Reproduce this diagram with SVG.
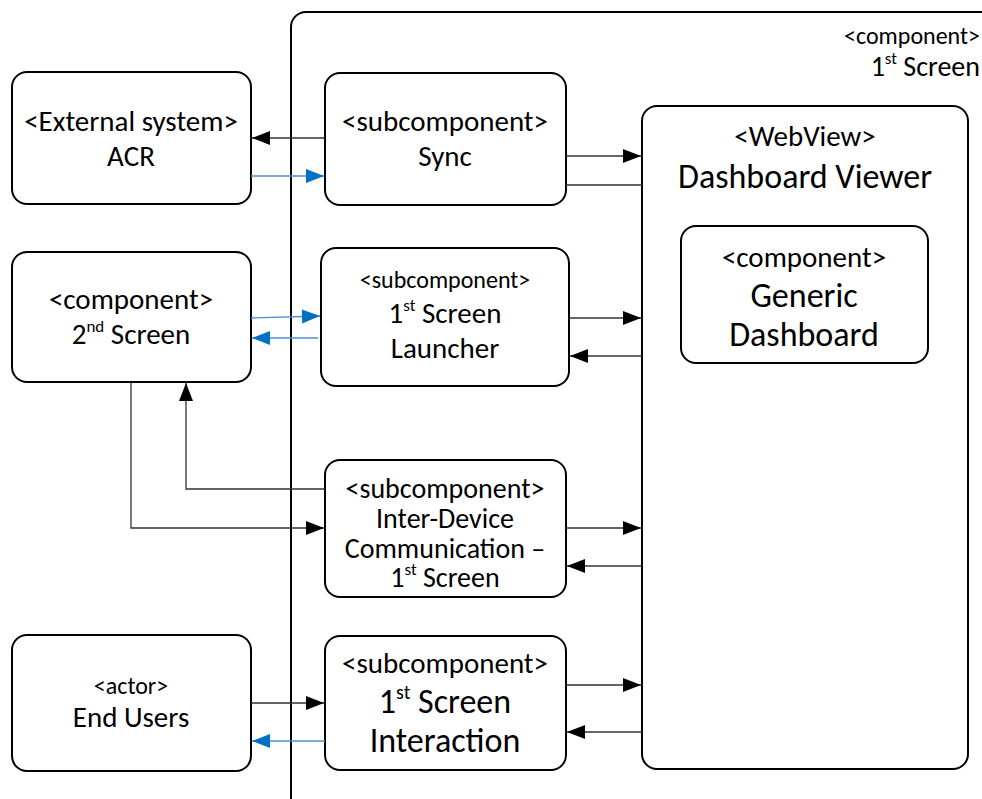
<svg xmlns="http://www.w3.org/2000/svg" width="982" height="799" viewBox="0 0 982 799">
  <style>
    .box { fill: #fff; stroke: #000; stroke-width: 2; }
    .t { font-family: Calibri, Carlito, "Liberation Sans", sans-serif; fill: #000; text-anchor: middle; }
    .r { text-anchor: end; }
    .ln { fill: none; stroke: #333; stroke-width: 1.3; }
    .bl { fill: none; stroke: #4a90d0; stroke-width: 1.3; }
  </style>
  <defs>
    <marker id="ah" markerUnits="userSpaceOnUse" markerWidth="20" markerHeight="14" refX="18" refY="7" orient="auto">
      <path d="M0,0 L18,7 L0,14 Z" fill="#000"/>
    </marker>
    <marker id="ahb" markerUnits="userSpaceOnUse" markerWidth="20" markerHeight="14" refX="18" refY="7" orient="auto">
      <path d="M0,0 L18,7 L0,14 Z" fill="#0070c0"/>
    </marker>
  </defs>

  <!-- enclosing 1st Screen component -->
  <g id="first-screen">
    <rect class="box" x="291" y="12" width="720" height="820" rx="15"/>
    <text class="t r" x="980" y="44" font-size="24">&lt;component&gt;</text>
    <text class="t r" x="980" y="76" font-size="28">1<tspan font-size="17" dy="-12">st</tspan><tspan dy="12"> Screen</tspan></text>
  </g>

  <g id="acr">
    <rect class="box" x="12" y="72" width="239" height="132" rx="15"/>
    <text class="t" x="131" y="131" font-size="29">&lt;External system&gt;</text>
    <text class="t" x="131" y="166" font-size="29">ACR</text>
  </g>

  <g id="second-screen">
    <rect class="box" x="12" y="252" width="239" height="130" rx="15"/>
    <text class="t" x="131" y="309" font-size="29">&lt;component&gt;</text>
    <text class="t" x="131" y="344" font-size="29">2<tspan font-size="17" dy="-12">nd</tspan><tspan dy="12"> Screen</tspan></text>
  </g>

  <g id="end-users">
    <rect class="box" x="12" y="635" width="239" height="136" rx="15"/>
    <text class="t" x="131" y="694" font-size="24">&lt;actor&gt;</text>
    <text class="t" x="131" y="727" font-size="29">End Users</text>
  </g>

  <g id="sync">
    <rect class="box" x="325" y="73" width="241" height="132" rx="15"/>
    <text class="t" x="445" y="131" font-size="29">&lt;subcomponent&gt;</text>
    <text class="t" x="445" y="166" font-size="29">Sync</text>
  </g>

  <g id="launcher">
    <rect class="box" x="321" y="248" width="248" height="138" rx="15"/>
    <text class="t" x="445" y="288" font-size="24">&lt;subcomponent&gt;</text>
    <text class="t" x="445" y="323" font-size="29">1<tspan font-size="17" dy="-12">st</tspan><tspan dy="12"> Screen</tspan></text>
    <text class="t" x="445" y="358" font-size="29">Launcher</text>
  </g>

  <g id="inter-device">
    <rect class="box" x="325" y="460" width="241" height="137" rx="15"/>
    <text class="t" x="445" y="498" font-size="28">&lt;subcomponent&gt;</text>
    <text class="t" x="445" y="528" font-size="28">Inter-Device</text>
    <text class="t" x="445" y="558" font-size="28">Communication –</text>
    <text class="t" x="445" y="587" font-size="28">1<tspan font-size="17" dy="-12">st</tspan><tspan dy="12"> Screen</tspan></text>
  </g>

  <g id="interaction">
    <rect class="box" x="325" y="636" width="241" height="134" rx="15"/>
    <text class="t" x="445" y="673" font-size="29">&lt;subcomponent&gt;</text>
    <text class="t" x="445" y="713" font-size="34">1<tspan font-size="20" dy="-14">st</tspan><tspan dy="14"> Screen</tspan></text>
    <text class="t" x="445" y="752" font-size="34">Interaction</text>
  </g>

  <g id="dashboard-viewer">
    <rect class="box" x="642" y="106" width="326" height="663" rx="15"/>
    <text class="t" x="805" y="146" font-size="29">&lt;WebView&gt;</text>
    <text class="t" x="805" y="188" font-size="34">Dashboard Viewer</text>
  </g>

  <g id="generic-dashboard">
    <rect class="box" x="681" y="226" width="247" height="137" rx="15"/>
    <text class="t" x="804" y="267" font-size="29">&lt;component&gt;</text>
    <text class="t" x="804" y="307" font-size="34">Generic</text>
    <text class="t" x="804" y="346" font-size="34">Dashboard</text>
  </g>

  <g id="connectors">
    <!-- Sync / ACR -->
    <line class="ln" x1="325" y1="138" x2="252" y2="138" marker-end="url(#ah)"/>
    <line class="bl" x1="251" y1="176" x2="324" y2="176" marker-end="url(#ahb)"/>
    <!-- Sync / Dashboard Viewer -->
    <line class="ln" x1="566" y1="156" x2="641" y2="156" marker-end="url(#ah)"/>
    <line class="ln" x1="566" y1="185" x2="642" y2="185" stroke="#666"/>
    <!-- 2nd Screen / Launcher -->
    <line class="bl" x1="251" y1="318" x2="320" y2="316" marker-end="url(#ahb)"/>
    <line class="bl" x1="318" y1="338" x2="252" y2="338" marker-end="url(#ahb)"/>
    <!-- Launcher / Dashboard Viewer -->
    <line class="ln" x1="569" y1="318" x2="641" y2="318" marker-end="url(#ah)"/>
    <line class="ln" x1="642" y1="356" x2="570" y2="356" marker-end="url(#ah)"/>
    <!-- 2nd Screen / Inter-Device -->
    <polyline class="ln" points="325,489 186,489 186,383" marker-end="url(#ah)"/>
    <polyline class="ln" points="131,382 131,528 324,528" marker-end="url(#ah)"/>
    <!-- Inter-Device / Dashboard Viewer -->
    <line class="ln" x1="566" y1="528" x2="641" y2="528" marker-end="url(#ah)"/>
    <line class="ln" x1="642" y1="566" x2="567" y2="566" marker-end="url(#ah)"/>
    <!-- End Users / Interaction -->
    <line class="ln" x1="251" y1="703" x2="324" y2="703" marker-end="url(#ah)"/>
    <line class="bl" x1="325" y1="741" x2="252" y2="741" marker-end="url(#ahb)"/>
    <!-- Interaction / Dashboard Viewer -->
    <line class="ln" x1="566" y1="685" x2="641" y2="685" marker-end="url(#ah)"/>
    <line class="ln" x1="642" y1="732" x2="567" y2="732" marker-end="url(#ah)"/>
  </g>
</svg>
